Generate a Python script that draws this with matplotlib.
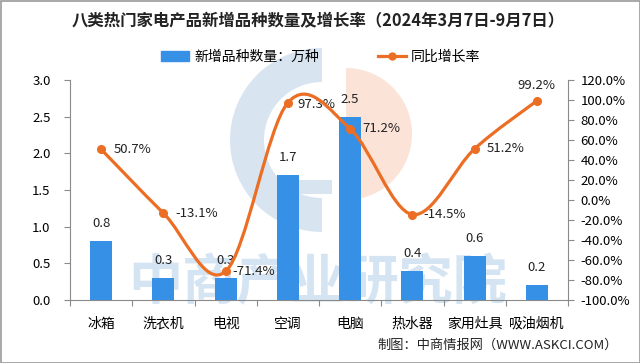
import numpy as np
import matplotlib
matplotlib.use("Agg")
import matplotlib.pyplot as plt
from matplotlib.patches import Wedge, Rectangle, Patch
from matplotlib.lines import Line2D
from matplotlib.path import Path
from matplotlib.patches import PathPatch

plt.rcParams['font.family'] = ['Noto Sans CJK SC', 'DejaVu Sans']

categories = ["冰箱", "洗衣机", "电视", "空调", "电脑", "热水器", "家用灶具", "吸油烟机"]
counts = [0.8, 0.3, 0.3, 1.7, 2.5, 0.4, 0.6, 0.2]
growth = [50.7, -13.1, -71.4, 97.3, 71.2, -14.5, 51.2, 99.2]
left_ticks = [0.0, 0.5, 1.0, 1.5, 2.0, 2.5, 3.0]
right_ticks = [-100, -80, -60, -40, -20, 0, 20, 40, 60, 80, 100, 120]

title = "八类热门家电产品新增品种数量及增长率（2024年3月7日-9月7日）"
bar_name = "新增品种数量：万种"
line_name = "同比增长率"
source = "制图：中商情报网（WWW.ASKCI.COM）"
watermark = "中商产业研究院"

BLUE = "#3590E6"
ORANGE = "#EB6E24"
GRAY = "#8a8a8a"

W, H = 640, 363
fig = plt.figure(figsize=(W / 100, H / 100), dpi=100)
fig.patch.set_facecolor("white")

# overlay for watermark / border (pixel coords)
ov = fig.add_axes([0, 0, 1, 1], zorder=0)
ov.set_xlim(0, W)
ov.set_ylim(H, 0)
ov.axis("off")
ov.add_patch(Wedge((322, 140), 92, 90, 270, width=34, color="#d8e5f1", lw=0))
ov.add_patch(Rectangle((275, 180), 57, 14, color="#d8e5f1", lw=0))
ov.add_patch(Wedge((346, 134), 66, -90, 90, color="#fbe3d8", lw=0))
ov.text(318, 284, watermark, fontsize=39, fontweight="bold", color="#d5e4f2",
        ha="center", va="center")
ov.add_patch(Rectangle((0.5, 0.5), W - 1, H - 1, fill=False, ec="#9a9a9a", lw=1.2))

# main axes
ax = fig.add_axes([70 / W, 1 - 300 / H, (568 - 70) / W, (300 - 80) / H], zorder=1)
ax.patch.set_visible(False)
x = np.arange(len(categories))
ax.bar(x, counts, width=0.35, color=BLUE, zorder=3)
ax.set_xlim(-0.5, len(categories) - 0.5)
ax.set_ylim(0, 3.0)
ax.set_yticks(left_ticks)
ax.set_yticklabels([f"{v:.1f}" for v in left_ticks])
for xi, v in zip(x, counts):
    ax.annotate(f"{v:.1f}", (xi, v), xytext=(0, 8), textcoords="offset points",
                ha="center", va="bottom", fontsize=9.5, color="#222222")

ax.set_xticks(np.arange(len(categories) + 1) - 0.5)
ax.set_xticklabels([])
ax.set_xticks(x, minor=True)
ax.set_xticklabels(categories, minor=True, fontsize=10)
ax.tick_params(axis="x", which="minor", length=0, pad=12)
ax.tick_params(axis="x", which="major", length=4, direction="out", color=GRAY)
ax.tick_params(axis="y", length=4, direction="out", color=GRAY, pad=10, labelsize=9.5)
for s in ["top", "right"]:
    ax.spines[s].set_visible(False)
ax.spines["left"].set_color(GRAY)
ax.spines["bottom"].set_color(GRAY)

# right axis with smoothed line
ax2 = ax.twinx()
ax2.set_zorder(2)
ax2.patch.set_visible(False)
ax2.set_ylim(-100, 120)
ax2.set_yticks(right_ticks)
ax2.set_yticklabels([f"{v:.1f}%" for v in right_ticks])
ax2.tick_params(axis="y", length=4, direction="out", color=GRAY, pad=5, labelsize=9.5)
for s in ["top", "left", "bottom"]:
    ax2.spines[s].set_visible(False)
ax2.spines["right"].set_color(GRAY)

# Catmull-Rom style smoothing (as in spreadsheet smoothed lines)
pts = np.column_stack([x, growth]).astype(float)
verts = [tuple(pts[0])]
codes = [Path.MOVETO]
n = len(pts)
for i in range(n - 1):
    p0 = pts[i - 1] if i > 0 else pts[i]
    p1 = pts[i]
    p2 = pts[i + 1]
    p3 = pts[i + 2] if i + 2 < n else pts[i + 1]
    c1 = p1 + (p2 - p0) / 6
    c2 = p2 - (p3 - p1) / 6
    verts += [tuple(c1), tuple(c2), tuple(p2)]
    codes += [Path.CURVE4] * 3
ax2.add_patch(PathPatch(Path(verts, codes), fill=False, ec=ORANGE, lw=2.3,
                        capstyle="round", zorder=4))
ax2.plot(x, growth, linestyle="none", marker="o", ms=5.5, color=ORANGE, zorder=5)

offsets = [(9, 0), (9, 0), (5, 0), (7, -1), (9, 0), (8, 0), (9, 0)]
for xi, v, off in zip(x[:-1], growth[:-1], offsets):
    ax2.annotate(f"{v:.1f}%", (xi, v), xytext=off, textcoords="offset points",
                 ha="left", va="center", fontsize=9.5, color="#222222")
ax2.annotate(f"{growth[-1]:.1f}%", (x[-1], growth[-1]), xytext=(0, 6),
             textcoords="offset points", ha="center", va="bottom",
             fontsize=9.5, color="#222222")

# title, legend, source
fig.text(318 / W, 1 - 21 / H, title, fontsize=11.8, fontweight="bold",
         ha="center", va="center", color="#222222")
handles = [Patch(color=BLUE, label=bar_name),
           Line2D([0], [0], color=ORANGE, lw=2.3, marker="o", ms=5, label=line_name)]
fig.legend(handles=handles, loc="center", bbox_to_anchor=(321 / W, 1 - 57 / H),
           ncol=2, frameon=False, fontsize=10, handlelength=2.0,
           handletextpad=0.4, columnspacing=4.2, handleheight=0.8)
fig.text(618 / W, 1 - 345 / H, source, fontsize=9.5, ha="right", va="center",
         color="#222222")

fig.savefig("out.png", dpi=100)
